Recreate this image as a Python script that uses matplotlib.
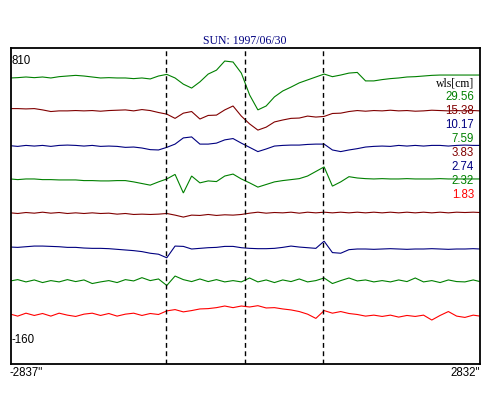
import numpy as np
import matplotlib
matplotlib.use("Agg")
import matplotlib.pyplot as plt

# -------------------------------------------------------------
# Data
# -------------------------------------------------------------
title = "SUN: 1997/06/30"
y_top = 810
y_bottom = -160
x_left = -2837
x_right = 2832
limb_lines = [-960, -5, 935]

x_arcsec = [-2837, -2750, -2650, -2550, -2450, -2350, -2250, -2150, -2050, -1950,
            -1850, -1750, -1650, -1550, -1450, -1350, -1250, -1150, -1050, -950,
            -850, -750, -650, -550, -450, -350, -250, -150, -50, 50,
            150, 250, 350, 450, 550, 650, 750, 850, 950, 1050,
            1150, 1250, 1350, 1450, 1550, 1650, 1750, 1850, 1950, 2050,
            2150, 2250, 2350, 2450, 2550, 2650, 2750, 2832]

wls_labels = ["29.56", "15.38", "10.17", "7.59", "3.83", "2.74", "2.32", "1.83"]
wls_colors = ["#008000", "#800000", "#000080", "#008000",
              "#800000", "#000080", "#008000", "#ff0000"]

trace_2956 = [718, 719, 721, 719, 721, 718, 722, 724, 726, 724,
              721, 718, 719, 718, 718, 716, 718, 715, 724, 729,
              718, 699, 687, 706, 730, 742, 770, 767, 733, 666,
              620, 632, 660, 678, 690, 703, 712, 721, 730, 722,
              727, 733, 735, 709, 709, 713, 716, 718, 721, 722,
              724, 726, 727, 727, 727, 727, 727, 727]
trace_1538 = [624, 624, 623, 624, 620, 615, 617, 617, 618, 617,
              618, 616, 618, 619, 620, 617, 621, 618, 612, 607,
              594, 610, 615, 592, 603, 604, 620, 632, 601, 577,
              558, 567, 583, 589, 594, 595, 601, 598, 600, 609,
              610, 615, 618, 616, 618, 617, 619, 617, 618, 616,
              617, 619, 618, 617, 618, 617, 618, 617]
trace_1017 = [510, 508, 511, 509, 511, 508, 511, 512, 511, 509,
              511, 508, 509, 508, 505, 506, 503, 498, 497, 505,
              515, 534, 537, 515, 515, 518, 528, 532, 518, 505,
              492, 500, 509, 511, 512, 512, 514, 515, 515, 497,
              492, 497, 501, 506, 508, 509, 508, 511, 509, 511,
              509, 511, 511, 509, 511, 512, 511, 511]
trace_759 = [408, 406, 408, 408, 406, 406, 405, 405, 405, 403,
             403, 402, 402, 403, 403, 399, 394, 389, 399, 408,
             422, 365, 417, 396, 402, 400, 417, 423, 408, 396,
             383, 391, 399, 403, 406, 409, 417, 431, 445, 386,
             399, 415, 411, 409, 408, 409, 408, 408, 409, 408,
             408, 408, 409, 408, 408, 408, 408, 408]
trace_383 = [304, 302, 305, 303, 306, 303, 305, 302, 304, 302,
             304, 302, 303, 300, 302, 299, 300, 299, 300, 302,
             297, 291, 297, 296, 299, 296, 298, 297, 299, 303,
             306, 303, 305, 304, 306, 303, 306, 304, 306, 304,
             306, 304, 306, 304, 306, 304, 306, 304, 306, 304,
             306, 304, 306, 304, 306, 305, 306, 305]
trace_274 = [199, 198, 200, 202, 202, 201, 200, 198, 198, 196,
             195, 195, 194, 192, 190, 188, 185, 180, 177, 166,
             202, 201, 193, 195, 197, 198, 201, 201, 197, 195,
             194, 194, 195, 198, 202, 199, 197, 195, 217, 182,
             180, 191, 193, 193, 192, 193, 194, 193, 192, 193,
             193, 194, 193, 192, 193, 193, 194, 193]
trace_232 = [95, 99, 92, 98, 90, 96, 92, 99, 93, 98,
             87, 92, 96, 90, 99, 95, 105, 96, 101, 81,
             110, 99, 93, 101, 93, 99, 92, 96, 92, 104,
             92, 98, 90, 98, 93, 101, 92, 96, 104, 87,
             96, 104, 95, 98, 92, 96, 92, 98, 93, 104,
             92, 96, 90, 98, 93, 92, 98, 93]
trace_183 = [-7, -13, -4, -11, -5, -13, -4, -10, -14, -7,
             -4, -11, -5, -13, -7, -4, -11, -5, -8, 3,
             7, 0, 4, 9, 10, 13, 18, 13, 18, 15,
             19, 12, 13, 9, 6, 1, -7, -20, 4, -4,
             1, -5, -8, -13, -10, -14, -10, -16, -11, -14,
             -10, -25, -11, 1, -13, -17, -10, -13]

traces = [trace_2956, trace_1538, trace_1017, trace_759,
          trace_383, trace_274, trace_232, trace_183]

# -------------------------------------------------------------
# Figure
# -------------------------------------------------------------
W, H = 500, 400
fig = plt.figure(figsize=(W / 100, H / 100), dpi=100)
fig.patch.set_facecolor("white")


def fx(px):
    return px / W


def fy(py):
    return 1 - py / H


ax = fig.add_axes([fx(10.5), fy(364), fx(480) - fx(10.5), fy(48) - fy(364)])

for ys, col in zip(traces, wls_colors):
    ax.plot(x_arcsec, ys, color=col, lw=0.8, solid_joinstyle="miter")

for xl in limb_lines:
    ax.axvline(xl, color="black", lw=1.0, linestyle=(0, (3.5, 2.5)))

ax.set_xlim(x_left, x_right)
ax.set_ylim(y_bottom, y_top)
ax.set_xticks([])
ax.set_yticks([])
for sp in ax.spines.values():
    sp.set_linewidth(1.3)
    sp.set_color("black")

sans = "Liberation Sans"
serif = "Liberation Serif"

# title and range labels
fig.text(fx(245), fy(41.5), title, color="#000080", family=serif,
         fontsize=8.5, ha="center", va="center")
fig.text(fx(12), fy(61), str(y_top), family=sans, fontsize=8.3,
         ha="left", va="center")
fig.text(fx(12), fy(340), str(y_bottom), family=sans, fontsize=8.3,
         ha="left", va="center")
fig.text(fx(9), fy(373), f'{x_left}"', family=sans, fontsize=8.3,
         ha="left", va="center")
fig.text(fx(480), fy(373), f'{x_right}"', family=sans, fontsize=8.3,
         ha="right", va="center")

# wavelength legend
fig.text(fx(474), fy(83.5), "wls[cm]", family=serif, fontsize=8.5,
         ha="right", va="center")
for i, (lab, col) in enumerate(zip(wls_labels, wls_colors)):
    fig.text(fx(474), fy(97.3 + i * 14), lab, color=col, family=sans,
             fontsize=8.3, ha="right", va="center")

fig.savefig("out.png", dpi=100)
